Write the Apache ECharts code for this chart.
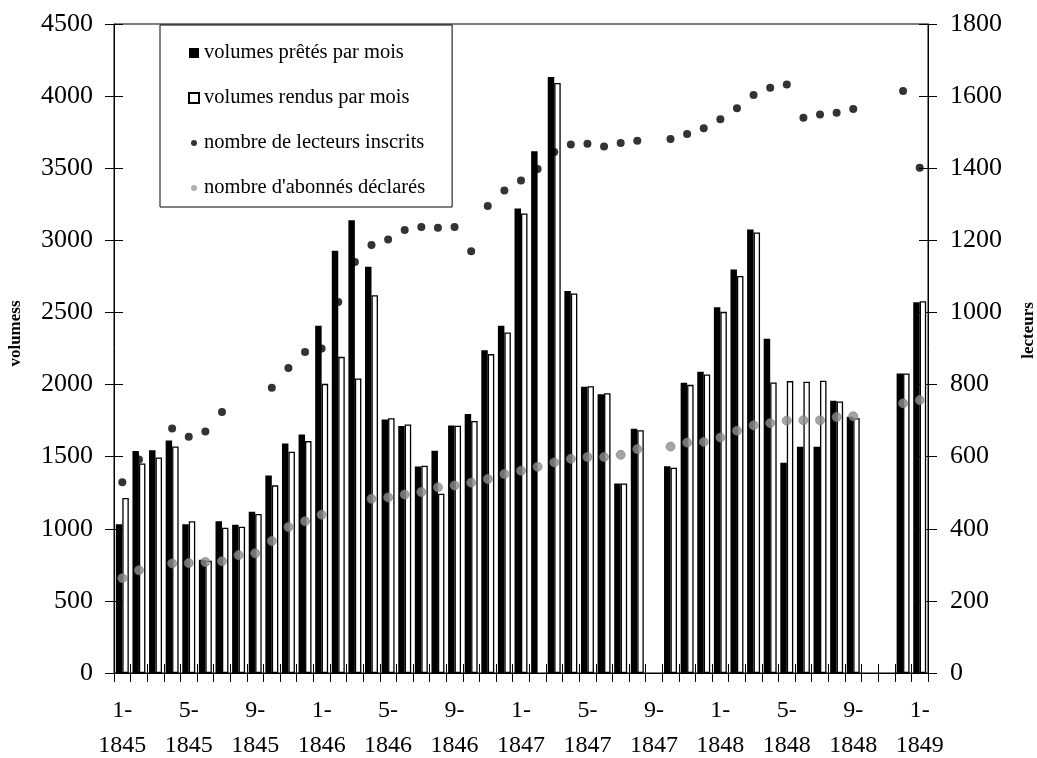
<!DOCTYPE html>
<html>
<head>
<meta charset="utf-8">
<script src="https://cdn.jsdelivr.net/npm/echarts@6/dist/echarts.min.js"></script>
<style>
html,body{margin:0;padding:0;background:#fff;}
#c{width:1037px;height:758px;}
</style>
</head>
<body>
<div id="c"></div>
<script>
var months = ["1-1845","2-1845","3-1845","4-1845","5-1845","6-1845","7-1845","8-1845","9-1845","10-1845","11-1845","12-1845",
"1-1846","2-1846","3-1846","4-1846","5-1846","6-1846","7-1846","8-1846","9-1846","10-1846","11-1846","12-1846",
"1-1847","2-1847","3-1847","4-1847","5-1847","6-1847","7-1847","8-1847","9-1847","10-1847","11-1847","12-1847",
"1-1848","2-1848","3-1848","4-1848","5-1848","6-1848","7-1848","8-1848","9-1848","10-1848","11-1848","12-1848",
"1-1849"];
var volumesPretes = [1032,1540,1545,1612,1032,785,1053,1028,1118,1370,1592,1654,
2407,2927,3140,2816,1758,1712,1432,1541,1716,1795,2238,2407,
3220,3617,4132,2649,1984,1933,1314,1693,null,1434,2012,2088,
2536,2798,3075,2317,1457,1568,1568,1887,1776,null,null,2077,
2571];
var volumesRendus = [1213,1453,1495,1571,1053,778,1007,1014,1102,1301,1534,1608,
2005,2192,2042,2620,1767,1723,1437,1243,1714,1748,2211,2361,
3186,null,4091,2631,1989,1940,1314,1684,null,1423,1998,2070,
2504,2753,3054,2014,2024,2019,2026,1883,1767,null,null,2077,
2578];
var lecteursInscrits = [529,592,null,678,655,670,724,null,null,791,846,890,
900,1029,1140,1187,1202,1229,1237,1235,1237,1170,1295,1338,
1366,1398,1445,1466,1468,1460,1470,1476,null,1481,1495,1511,
1536,1566,1603,1623,1632,1540,1549,1554,1564,null,null,1614,
1401];
var abonnesDeclares = [263,285,null,304,305,308,310,327,332,366,405,421,
439,null,null,483,487,495,502,515,520,528,538,552,
561,572,584,594,599,599,605,621,null,628,639,641,
653,672,687,693,700,701,701,710,712,null,null,748,
757];
var leftTicks = {min:0, max:4500, interval:500};
var rightTicks = {min:0, max:1800, interval:200};

var FONT = 'Liberation Serif';
var chart = echarts.init(document.getElementById('c'));
var tickInside = {show:true, inside:true, length:9, lineStyle:{color:'#000', width:1}};
var tickOutside = {show:true, inside:false, length:9, lineStyle:{color:'#000', width:1}};
var dotIcon = 'path://M0,0M10,10M2,5A3,3,0,1,1,8,5A3,3,0,1,1,2,5Z';
var plain = function(v){return String(v);};
chart.setOption({
  animation:false,
  backgroundColor:'#fff',
  grid:{left:114, right:109, top:24, bottom:85, show:true, borderColor:'#000', borderWidth:1,
    backgroundColor:'transparent', containLabel:false, outerBoundsMode:'none'},
  legend:{
    orient:'vertical', left:160, top:25,
    itemWidth:10, itemHeight:10, itemGap:23,
    padding:[17,27,8,28],
    borderColor:'#000', borderWidth:1,
    textStyle:{fontFamily:FONT, fontSize:20.5, color:'#000', lineHeight:22},
    data:[
      {name:'volumes prêtés par mois', icon:'rect', itemStyle:{color:'#000'}},
      {name:'volumes rendus par mois', icon:'rect', itemStyle:{color:'#fff', borderColor:'#000', borderWidth:2}},
      {name:'nombre de lecteurs inscrits', icon:dotIcon, itemStyle:{color:'#000', borderWidth:0}},
      {name:"nombre d'abonnés déclarés", icon:dotIcon, itemStyle:{color:'#999', borderWidth:0}}
    ]
  },
  xAxis:[{
    type:'category', data:months, position:'bottom',
    axisLine:{show:true, lineStyle:{color:'#000', width:1}},
    axisTick:Object.assign({interval:0}, tickOutside),
    axisLabel:{interval:3, margin:20, fontFamily:FONT, fontSize:24, color:'#000', lineHeight:35,
      formatter:function(v){return v.replace('-', '-\n');}},
    splitLine:{show:false}
  },{
    type:'category', data:months, position:'bottom',
    axisLine:{show:false},
    axisTick:Object.assign({interval:0}, tickInside),
    axisLabel:{show:false}, splitLine:{show:false}
  }],
  yAxis:[{
    type:'value', position:'left', min:leftTicks.min, max:leftTicks.max, interval:leftTicks.interval,
    name:'volumess', nameLocation:'middle', nameRotate:90, nameGap:90,
    nameTextStyle:{fontFamily:FONT, fontSize:17, fontWeight:'bold', color:'#000', padding:[0,0,0,30]},
    axisLine:{show:true, lineStyle:{color:'#000', width:1}},
    axisTick:tickOutside,
    axisLabel:{margin:21, fontFamily:FONT, fontSize:26, color:'#000', formatter:plain},
    splitLine:{show:false}
  },{
    type:'value', position:'right', min:rightTicks.min, max:rightTicks.max, interval:rightTicks.interval,
    name:'lecteurs', nameLocation:'middle', nameRotate:90, nameGap:92,
    nameTextStyle:{fontFamily:FONT, fontSize:17, fontWeight:'bold', color:'#000', padding:[0,0,0,36]},
    axisLine:{show:true, lineStyle:{color:'#000', width:1}},
    axisTick:tickOutside,
    axisLabel:{margin:22, fontFamily:FONT, fontSize:26, color:'#000', formatter:plain},
    splitLine:{show:false}
  },{
    type:'value', position:'left', min:leftTicks.min, max:leftTicks.max, interval:leftTicks.interval,
    axisLine:{show:false}, axisTick:tickInside, axisLabel:{show:false}, splitLine:{show:false}
  },{
    type:'value', position:'right', min:rightTicks.min, max:rightTicks.max, interval:rightTicks.interval,
    axisLine:{show:false}, axisTick:tickInside, axisLabel:{show:false}, splitLine:{show:false}
  }],
  series:[
    {name:'volumes prêtés par mois', type:'bar', xAxisIndex:0, yAxisIndex:0, data:volumesPretes,
      barGap:'0%', barCategoryGap:'22%', itemStyle:{color:'#000'}},
    {name:'volumes rendus par mois', type:'bar', xAxisIndex:0, yAxisIndex:0, data:volumesRendus,
      itemStyle:{color:'#fff', borderColor:'#000', borderWidth:1.3}},
    {name:'nombre de lecteurs inscrits', type:'scatter', xAxisIndex:0, yAxisIndex:1, data:lecteursInscrits,
      symbolSize:8, itemStyle:{color:'#000'}, z:5},
    {name:"nombre d'abonnés déclarés", type:'scatter', xAxisIndex:0, yAxisIndex:1, data:abonnesDeclares,
      symbolSize:9, itemStyle:{color:'#8f8f8f', borderColor:'#7a7a7a', borderWidth:0.8}, z:5}
  ]
});
</script>
</body>
</html>
